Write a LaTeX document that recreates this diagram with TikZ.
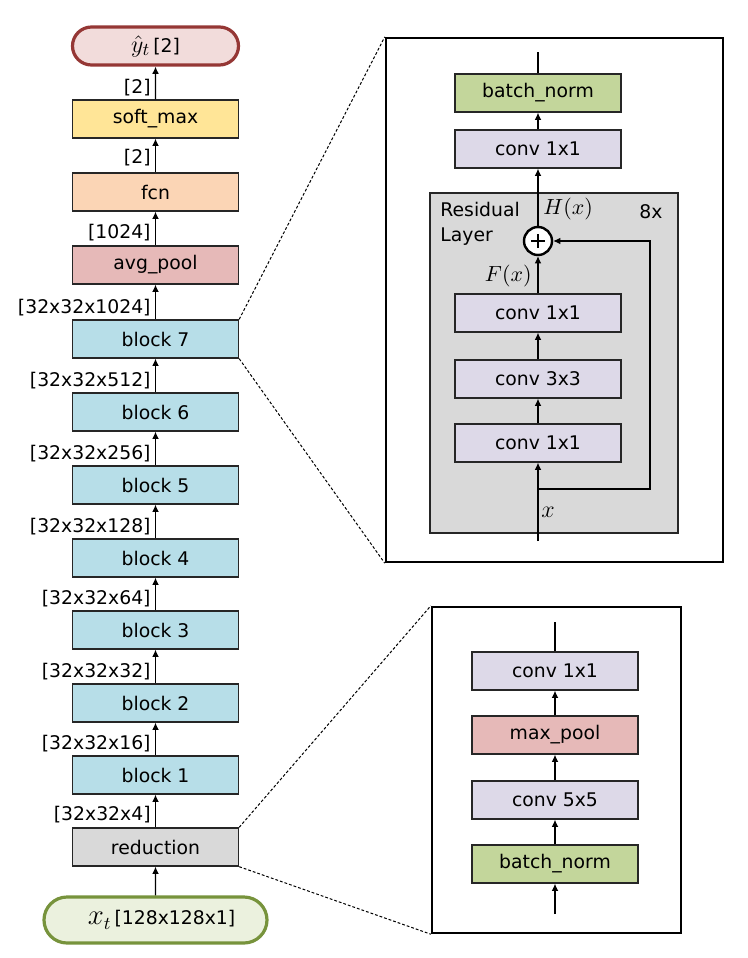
\documentclass[tikz,border=0pt]{standalone}
\usepackage{fontspec}
\setmainfont{DejaVu Sans}
\usetikzlibrary{arrows.meta,shapes.misc,calc}
\definecolor{ytfill}{HTML}{F2DCDB}
\definecolor{ytdraw}{HTML}{953735}
\definecolor{xtfill}{HTML}{EBF1DE}
\definecolor{xtdraw}{HTML}{77933C}
\definecolor{smfill}{HTML}{FFE597}
\definecolor{fcnfill}{HTML}{FBD5B5}
\definecolor{poolfill}{HTML}{E6B9B8}
\definecolor{blockfill}{HTML}{B7DEE8}
\definecolor{grayfill}{HTML}{D9D9D9}
\definecolor{convfill}{HTML}{DDD9E8}
\definecolor{bnfill}{HTML}{C3D69B}
\tikzset{
  box/.style={draw=black!85, line width=0.7pt, minimum width=83pt, minimum height=19pt, inner sep=0pt, font=\fontsize{9.4}{11}\selectfont},
  pill/.style={rounded rectangle, line width=1.6pt, inner sep=0pt, font=\fontsize{9.4}{11}\selectfont},
  dimlab/.style={anchor=east, inner sep=0pt, font=\fontsize{9.4}{11}\selectfont},
  arr/.style={line width=0.6pt, -{Latex[length=3.6pt,width=3.4pt]}},
  plainline/.style={line width=0.6pt},
  panel/.style={draw=black, line width=1.2pt, inner sep=0pt},
  zoomline/.style={line width=0.5pt, dash pattern=on 1.4pt off 1pt},
  txt/.style={inner sep=0pt, font=\fontsize{9.4}{11}\selectfont}
}
\begin{document}
\begin{tikzpicture}[x=0.5pt,y=-0.5pt]
\useasboundingbox (0,0) rectangle (748,958);
% ---------- left column ----------
\node[pill, draw=ytdraw, fill=ytfill, minimum width=83pt, minimum height=19pt] (yt) at (155.5,46) {{\fontsize{13}{14}\selectfont$\hat{y}_t$}\,[2]};
\node[box, fill=smfill] (sm) at (155.5,119) {soft\_max};
\node[box, fill=fcnfill] (fcn) at (155.5,192) {fcn};
\node[box, fill=poolfill] (avg) at (155.5,265) {avg\_pool};
\node[box, fill=blockfill] (b7) at (155.5,339) {block 7};
\node[box, fill=blockfill] (b6) at (155.5,412) {block 6};
\node[box, fill=blockfill] (b5) at (155.5,485) {block 5};
\node[box, fill=blockfill] (b4) at (155.5,558) {block 4};
\node[box, fill=blockfill] (b3) at (155.5,630) {block 3};
\node[box, fill=blockfill] (b2) at (155.5,703) {block 2};
\node[box, fill=blockfill] (b1) at (155.5,775) {block 1};
\node[box, fill=grayfill] (red) at (155.5,847) {reduction};
\node[pill, draw=xtdraw, fill=xtfill, minimum width=111.5pt, minimum height=23pt] (xt) at (155.5,920) {\hspace{6pt}{\fontsize{13.5}{14}\selectfont$x_t$}\,[128x128x1]};

\draw[arr] (sm) -- (yt);
\draw[arr] (fcn) -- (sm);
\draw[arr] (avg) -- (fcn);
\draw[arr] (b7) -- (avg);
\draw[arr] (b6) -- (b7);
\draw[arr] (b5) -- (b6);
\draw[arr] (b4) -- (b5);
\draw[arr] (b3) -- (b4);
\draw[arr] (b2) -- (b3);
\draw[arr] (b1) -- (b2);
\draw[arr] (red) -- (b1);
\draw[arr] (xt) -- (red);

\node[dimlab] (l1) at (151,88) {[2]};
\node[dimlab] (l2) at (151,158) {[2]};
\node[dimlab] (l3) at (151,233) {[1024]};
\node[dimlab] (l4) at (151,308) {[32x32x1024]};
\node[dimlab] (l5) at (151,381) {[32x32x512]};
\node[dimlab] (l6) at (151,454) {[32x32x256]};
\node[dimlab] (l7) at (151,527) {[32x32x128]};
\node[dimlab] (l8) at (151,599) {[32x32x64]};
\node[dimlab] (l9) at (151,672) {[32x32x32]};
\node[dimlab] (l10) at (151,744) {[32x32x16]};
\node[dimlab] (l11) at (151,815) {[32x32x4]};

% ---------- upper panel ----------
\node[panel, minimum width=168.5pt, minimum height=262pt] (p1) at (554.5,300) {};
\node[draw=black!85, line width=0.7pt, fill=grayfill, minimum width=124pt, minimum height=170pt, inner sep=0pt] (res) at (554,363) {};
\node[box, fill=bnfill] (ubn) at (538,93) {batch\_norm};
\node[box, fill=convfill] (uc4) at (538,149) {conv 1x1};
\node[box, fill=convfill] (uc3) at (538,313) {conv 1x1};
\node[box, fill=convfill] (uc2) at (538,379) {conv 3x3};
\node[box, fill=convfill] (uc1) at (538,443) {conv 1x1};
\coordinate (utop) at (538,52);
\coordinate (ubot) at (538,541);
\coordinate (usplit) at (538,489);
\coordinate (uright) at (650,489);
\coordinate (urighttop) at (650,241);
\node[circle, draw=black, line width=1.2pt, fill=white, minimum size=14pt, inner sep=0pt] (plus) at (538,241) {};
\draw[line width=1.3pt] ($(plus.center)+(-7,0)$) -- ($(plus.center)+(7,0)$);
\draw[line width=1.3pt] ($(plus.center)+(0,-7)$) -- ($(plus.center)+(0,7)$);
\draw[plainline] (ubn) -- (utop);
\draw[arr] (uc4) -- (ubn);
\draw[arr] (plus) -- (uc4);
\draw[arr] (uc3) -- (plus);
\draw[arr] (uc2) -- (uc3);
\draw[arr] (uc1) -- (uc2);
\draw[arr] (ubot) -- (uc1);
\draw[arr] (usplit) -- (uright) -- (urighttop) -- (plus);
\node[txt, anchor=north west, align=left] (reslab) at (440,202) {Residual\\[1.5pt]Layer};
\node[txt] (eight) at (651,212) {8x};
\node[txt, anchor=west] (hx) at (543,209) {\fontsize{10.5}{12}\selectfont$H(x)$};
\node[txt, anchor=east] (fx) at (532,276) {\fontsize{10.5}{12}\selectfont$F(x)$};
\node[txt, anchor=west] (xl) at (541,512) {\fontsize{13}{14}\selectfont$x$};

% ---------- lower panel ----------
\node[panel, minimum width=124.5pt, minimum height=163pt] (p2) at (556.5,770) {};
\node[box, fill=convfill] (lc2) at (555,671) {conv 1x1};
\node[box, fill=poolfill] (lmp) at (555,735) {max\_pool};
\node[box, fill=convfill] (lc1) at (555,800) {conv 5x5};
\node[box, fill=bnfill] (lbn) at (555,864) {batch\_norm};
\coordinate (ltop) at (555,622);
\coordinate (lbot) at (555,914);
\draw[plainline] (lc2) -- (ltop);
\draw[arr] (lmp) -- (lc2);
\draw[arr] (lc1) -- (lmp);
\draw[arr] (lbn) -- (lc1);
\draw[arr] (lbot) -- (lbn);

% ---------- zoom lines ----------
\draw[zoomline] (b7.north east) -- (p1.north west);
\draw[zoomline] (b7.south east) -- (p1.south west);
\draw[zoomline] (red.north east) -- (p2.north west);
\draw[zoomline] (red.south east) -- (p2.south west);
\end{tikzpicture}
\end{document}
